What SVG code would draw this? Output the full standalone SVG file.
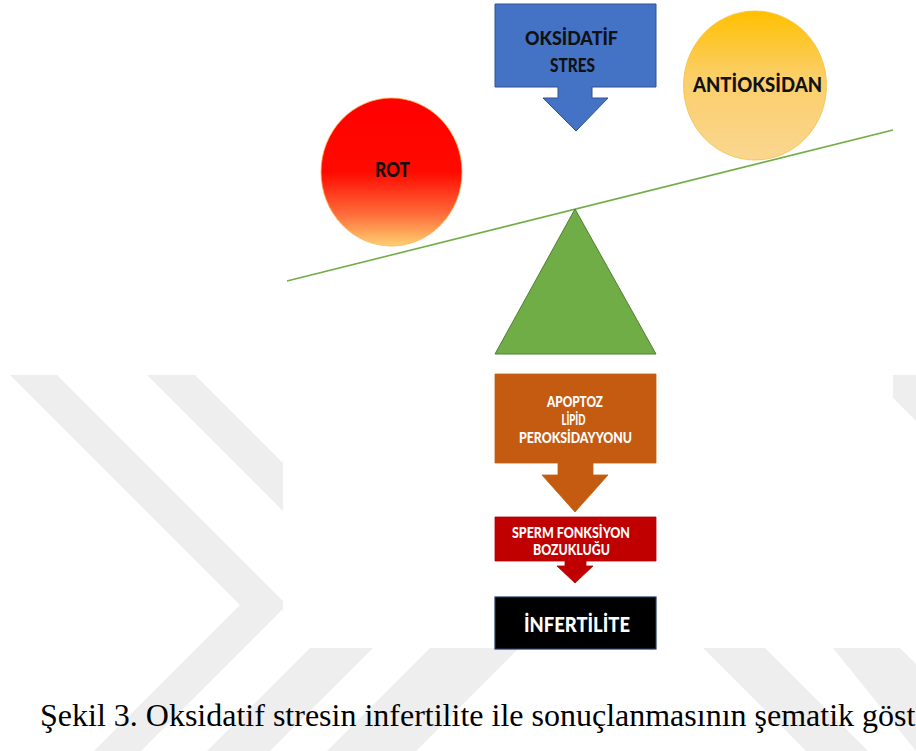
<svg xmlns="http://www.w3.org/2000/svg" width="916" height="751" viewBox="0 0 916 751">
  <defs>
    <linearGradient id="gRot" x1="0" y1="0" x2="0" y2="1">
      <stop offset="0" stop-color="#FF0000"/>
      <stop offset="0.5" stop-color="#FF0A00"/>
      <stop offset="0.78" stop-color="#FF6A3A"/>
      <stop offset="1" stop-color="#FFD070"/>
    </linearGradient>
    <linearGradient id="gAnti" x1="0" y1="0" x2="0" y2="1">
      <stop offset="0" stop-color="#FFC000"/>
      <stop offset="0.45" stop-color="#FBCF6A"/>
      <stop offset="1" stop-color="#FAD690"/>
    </linearGradient>
    <style>
      .wm { fill: #eeeeee; }
      .lbl { font-family: Lato, "Open Sans", "Liberation Sans", sans-serif; font-weight: 900; text-anchor: middle; }
      .dark { fill: #111111; }
      .light { fill: #ffffff; }
      .cap { font-family: "Liberation Serif", "Times New Roman", serif; font-size: 32px; fill: #000000; }
    </style>
  </defs>

  <rect width="916" height="751" fill="#ffffff"/>

  <g id="watermark">
    <polygon class="wm" points="10,375 57,375 287,605 141,751 94,751 240,605"/>
    <polygon class="wm" points="147,375 195,375 300,480 300,528"/>
    <polygon class="wm" points="310,648 373,648 270,751 207,751"/>
    <polygon class="wm" points="430,648 519,648 416,751 327,751"/>
    <polygon class="wm" points="703,648 765,648 868,751 806,751"/>
    <polygon class="wm" points="833,648 900,648 916,664 916,751"/>
    <polygon class="wm" points="870,375 916,375 916,421"/>
  </g>

  <rect id="figure-bg" x="283" y="0" width="610" height="648" fill="#ffffff"/>

  <g id="connectors">
    <line x1="287" y1="281" x2="893" y2="130" stroke="#70AD47" stroke-width="1.6"/>
  </g>

  <g id="oksidatif-stres">
    <path d="M495,4 H656 V87 H592 V98 H608 L576,131 L543,98 H558 V87 H495 Z" fill="#4472C4" stroke="#2F528F" stroke-width="1"/>
    <text class="lbl dark" x="571.5" y="45" font-size="19" textLength="93" lengthAdjust="spacingAndGlyphs">OKSİDATİF</text>
    <text class="lbl dark" x="572.5" y="72" font-size="19" textLength="45" lengthAdjust="spacingAndGlyphs">STRES</text>
  </g>

  <g id="antioksidan">
    <ellipse cx="755" cy="85.5" rx="71.5" ry="74.5" fill="url(#gAnti)" stroke="#F5C040" stroke-width="0.8"/>
    <text class="lbl dark" x="757.5" y="92" font-size="21" textLength="129" lengthAdjust="spacingAndGlyphs">ANTİOKSİDAN</text>
  </g>

  <g id="rot">
    <ellipse cx="391.5" cy="172" rx="70.5" ry="74" fill="url(#gRot)" stroke="#FFB050" stroke-width="0.8"/>
    <text class="lbl dark" x="392.5" y="177" font-size="21" textLength="35" lengthAdjust="spacingAndGlyphs">ROT</text>
  </g>

  <g id="fulcrum">
    <polygon points="575,209 656,354 495,354" fill="#70AD47" stroke="#507E32" stroke-width="1"/>
  </g>

  <g id="apoptoz">
    <path d="M495,374 H656 V463 H593 V475 H608 L575,512 L542,475 H558 V463 H495 Z" fill="#C55A11" stroke="#C0600F" stroke-width="0.8"/>
    <text class="lbl light" x="575" y="407" font-size="15" textLength="56" lengthAdjust="spacingAndGlyphs">APOPTOZ</text>
    <text class="lbl light" x="573.5" y="425" font-size="15" textLength="24" lengthAdjust="spacingAndGlyphs">LİPİD</text>
    <text class="lbl light" x="575.5" y="443" font-size="15" textLength="113" lengthAdjust="spacingAndGlyphs">PEROKSİDAYYONU</text>
  </g>

  <g id="sperm">
    <path d="M495,517 H656 V561 H586 V566 H593 L575,583 L557,566 H565 V561 H495 Z" fill="#C00000" stroke="#B00000" stroke-width="0.8"/>
    <text class="lbl light" x="571" y="538" font-size="14.5" textLength="118" lengthAdjust="spacingAndGlyphs">SPERM FONKSİYON</text>
    <text class="lbl light" x="571.5" y="555" font-size="14.5" textLength="77" lengthAdjust="spacingAndGlyphs">BOZUKLUĞU</text>
  </g>

  <g id="infertilite">
    <rect x="495" y="597" width="161" height="52" fill="#000000" stroke="#1F3864" stroke-width="1.2"/>
    <text class="lbl light" x="577" y="632" font-size="21" textLength="106" lengthAdjust="spacingAndGlyphs">İNFERTİLİTE</text>
  </g>

  <text id="caption" class="cap" x="40" y="726">Şekil 3. Oksidatif stresin infertilite ile sonuçlanmasının şematik göst</text>
</svg>
